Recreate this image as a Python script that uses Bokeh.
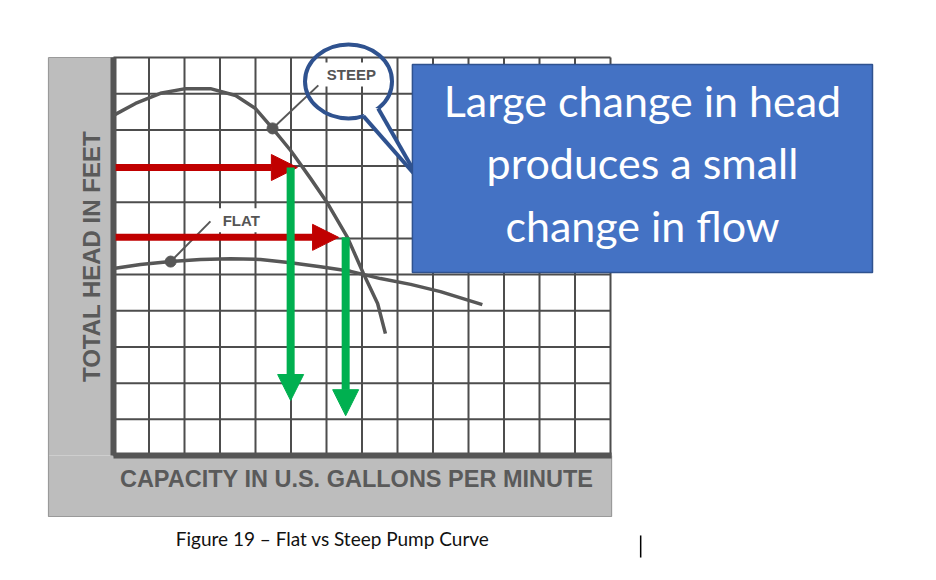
import math
from bokeh.plotting import figure
from bokeh.models import Range1d, Arrow, NormalHead
from bokeh.core.properties import value
from bokeh.embed import file_html
from bokeh.resources import INLINE

# ---------------- data (grid units: capacity columns / head rows) ----------------
capacity_lines = list(range(0, 15))      # vertical grid lines
head_lines = list(range(0, 12))          # horizontal grid lines

steep_q = [0.0, 0.62, 1.32, 2.03, 2.73, 3.44, 4.00, 4.48, 4.99, 5.55, 6.03, 6.59, 7.04, 7.44, 7.66]
steep_h = [9.40, 9.73, 10.01, 10.14, 10.14, 9.95, 9.59, 9.04, 8.43, 7.66, 6.97, 6.03, 5.03, 4.20, 3.37]

flat_q = [0.0, 0.76, 1.61, 2.45, 3.30, 4.14, 4.99, 5.83, 6.68, 7.52, 8.37, 9.21, 10.39]
flat_h = [5.17, 5.28, 5.36, 5.42, 5.44, 5.42, 5.33, 5.22, 5.09, 4.89, 4.73, 4.53, 4.17]

curve_labels = ["STEEP", "FLAT"]
label_q = [6.70, 3.60]
label_h = [10.53, 6.50]
marker_q = [4.48, 1.61]
marker_h = [9.04, 5.36]
leader_end_q = [5.77, 2.73]
leader_end_h = [10.23, 6.47]

# head levels (red) and resulting flows (green)
head_levels = [7.96, 6.03]
head_arrow_end_q = [5.18, 6.34]
flow_q = [4.99, 6.54]
flow_arrow_end_h = [1.52, 1.10]

x_title = "CAPACITY IN U.S. GALLONS PER MINUTE"
y_title = "TOTAL HEAD IN FEET"
caption = "Figure 19 \u2013 Flat vs Steep Pump Curve"
box_lines = ["Large change in head", "produces a small", "change in flow"]

# ---------------- figure ----------------
PXX, PXY = 35.5, 36.18
X0, Y0 = 113, 109          # pixel position of the grid origin (from left / from bottom)
W, H = 920, 564
p = figure(width=W, height=H, output_backend="svg", toolbar_location=None,
           x_range=Range1d(-X0 / PXX, (W - X0) / PXX),
           y_range=Range1d(-Y0 / PXY, (H - Y0) / PXY),
           x_axis_type=None, y_axis_type=None, min_border=0)
p.outline_line_color = None
p.background_fill_color = "white"
p.border_fill_color = "white"

qmax, hmax = capacity_lines[-1], head_lines[-1]
frame_left, frame_bottom = -65 / PXX, -61 / PXY

# grey scanned frame bands
band = dict(fill_color="#bdbdbd", line_color=None)
p.quad(left=[frame_left], right=[0], bottom=[0], top=[hmax], **band)
p.quad(left=[frame_left], right=[qmax + 0.03], bottom=[frame_bottom], top=[0], **band)
p.line([frame_left, frame_left, qmax + 0.03, qmax + 0.03], [hmax, frame_bottom, frame_bottom, 0],
       line_color="#9a9a9a", line_width=1.2)
p.line([frame_left, 0], [hmax, hmax], line_color="#9a9a9a", line_width=1.2)

# grid
grid_col = "#4d4d4d"
p.segment(x0=capacity_lines, y0=[0] * len(capacity_lines), x1=capacity_lines,
          y1=[hmax] * len(capacity_lines), line_color=grid_col, line_width=2)
p.segment(x0=[0] * len(head_lines), y0=head_lines, x1=[qmax] * len(head_lines),
          y1=head_lines, line_color=grid_col, line_width=2)
p.line([0, 0], [0, hmax], line_color="#555555", line_width=6)
p.line([0, qmax + 0.03], [0, 0], line_color="#555555", line_width=6)

# curves
curve_col = "#575757"
p.line(steep_q, steep_h, line_color=curve_col, line_width=3.5, line_join="round")
p.line(flat_q, flat_h, line_color=curve_col, line_width=3.5, line_join="round")
p.segment(x0=marker_q, y0=marker_h, x1=leader_end_q, y1=leader_end_h,
          line_color=curve_col, line_width=2)
p.scatter(marker_q, marker_h, size=11, fill_color=curve_col, line_color=curve_col)
p.rect(x=label_q, y=label_h, width=54, height=24, width_units="screen", height_units="screen",
       fill_color="white", line_color=None)
p.text(x=label_q, y=label_h, text=curve_labels, text_font=value("Liberation Sans"),
       text_font_style="bold", text_font_size="15px", text_color="#555555",
       text_align="center", text_baseline="middle")

# axis titles
p.text(x=[-0.63], y=[5.5], text=[y_title], angle=math.pi / 2, text_font=value("Liberation Sans"),
       text_font_style="bold", text_font_size="24px", text_color="#5a5a5a",
       text_align="center", text_baseline="middle")
p.text(x=[6.85], y=[-0.64], text=[x_title], text_font=value("Liberation Sans"),
       text_font_style="bold", text_font_size="23.5px", text_color="#5a5a5a",
       text_align="center", text_baseline="middle")

# caption
p.text(x=[6.17], y=[-2.29], text=[caption], text_font=value("Lato"),
       text_font_size="19px", text_color="#111111", text_align="center", text_baseline="middle")
p.segment(x0=[14.85], y0=[-2.21], x1=[14.85], y1=[-2.82], line_color="black", line_width=1.5)

# red arrows (head levels)
red = "#C00000"
for h, qe in zip(head_levels, head_arrow_end_q):
    p.add_layout(Arrow(end=NormalHead(size=26, fill_color=red, line_color=red, line_width=1),
                       x_start=0.06, y_start=h, x_end=qe, y_end=h,
                       line_color=red, line_width=7))

# green arrows (flows)
green = "#00B050"
for q, h, he in zip(flow_q, head_levels, flow_arrow_end_h):
    p.add_layout(Arrow(end=NormalHead(size=26, fill_color=green, line_color=green, line_width=1),
                       x_start=q, y_start=h, x_end=q, y_end=he,
                       line_color=green, line_width=8))

# speech bubble around STEEP
blue_dark = "#2F528F"
cx, cy = 6.62, 10.34
p.ellipse(x=[cx], y=[cy], width=87, height=74, width_units="screen", height_units="screen",
          fill_color=None, line_color=blue_dark, line_width=4)
a, b = 43.5 / PXX, 37 / PXY
t1, t2 = math.radians(-70), math.radians(-47)
bl = (cx + a * math.cos(t1), cy + b * math.sin(t1))
br = (cx + a * math.cos(t2), cy + b * math.sin(t2))
tip = (8.59, 7.65)
inner = (cx + 0.8 * a * math.cos(math.radians(-58)), cy + 0.8 * b * math.sin(math.radians(-58)))
p.patch([bl[0], tip[0], br[0], inner[0]], [bl[1], tip[1], br[1], inner[1]],
        fill_color="white", line_color=None)
p.multi_line([[bl[0], tip[0]], [br[0], tip[0]]], [[bl[1], tip[1]], [br[1], tip[1]]],
             line_color=blue_dark, line_width=4)

# blue call-out box
bx0, bx1, by0, by1 = 8.42, 21.38, 5.06, 10.81
p.quad(left=[bx0], right=[bx1], bottom=[by0], top=[by1], fill_color="#4472C4",
       line_color=blue_dark, line_width=1.5)
p.text(x=[(bx0 + bx1) / 2] * 3, y=[9.80, 8.09, 6.37], text=box_lines,
       text_font=value("Lato"), text_font_size="43px", text_color="white",
       text_align="center", text_baseline="middle")

open("out.html", "w").write(file_html(p, INLINE))
